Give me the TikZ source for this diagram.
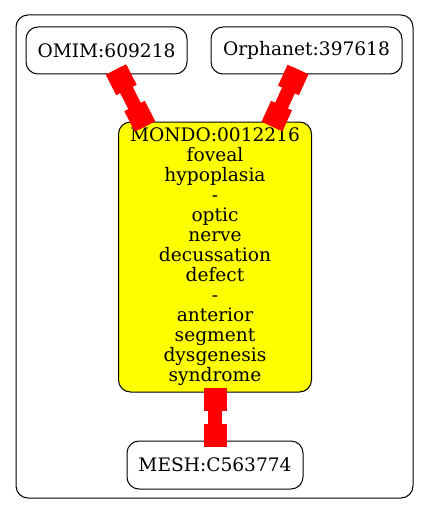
\documentclass[tikz,border=0pt]{standalone}
\usepackage{fontspec}
\setmainfont{DejaVu Serif}
\usetikzlibrary{calc}
\definecolor{nodeyellow}{RGB}{255,255,0}
\definecolor{linkred}{RGB}{255,0,0}
\newcommand\boxlink[2]{%
  \draw[link] (#1) -- (#2);
  \draw[linkend] (#1) -- ($(#1)!23pt!(#2)$);
  \draw[linkend] (#2) -- ($(#2)!23pt!(#1)$);
}
\begin{document}
\begin{tikzpicture}[x=1pt,y=-1pt,
  box/.style={draw=black, line width=1pt, rounded corners=12pt, align=center, inner sep=0pt,
    font=\fontsize{18.6pt}{20pt}\selectfont},
  link/.style={draw=linkred, line width=14pt},
  linkend/.style={draw=linkred, line width=23pt}]
\useasboundingbox (0,0) rectangle (429,516);
\draw[line width=1pt, rounded corners=12pt] (16,15) rectangle (413,498);
\node[box, minimum width=161pt, minimum height=47pt] (omim) at (106.5,50.5) {OMIM:609218};
\node[box, minimum width=191pt, minimum height=47pt] (orph) at (306.5,50.5) {Orphanet:397618};
\node[box, fill=nodeyellow, minimum width=193pt, minimum height=270pt, text depth=4pt] (mondo) at (215,257)
  {MONDO:0012216\\foveal\\hypoplasia\\-\\optic\\nerve\\decussation\\defect\\-\\anterior\\segment\\dysgenesis\\syndrome};
\node[box, minimum width=176pt, minimum height=48pt] (mesh) at (215,465) {MESH:C563774};
\coordinate (c1s) at ($(omim.south)+(9.5,-5)$);
\coordinate (c1e) at ($(mondo.north)+(-70,5)$);
\coordinate (c2s) at ($(orph.south)+(-8.5,-5)$);
\coordinate (c2e) at ($(mondo.north)+(57,5)$);
\coordinate (c3s) at ($(mondo.south)+(0,-5)$);
\coordinate (c3e) at ($(mesh.north)+(0,6)$);
\boxlink{c1s}{c1e}
\boxlink{c2s}{c2e}
\boxlink{c3s}{c3e}
\end{tikzpicture}
\end{document}
